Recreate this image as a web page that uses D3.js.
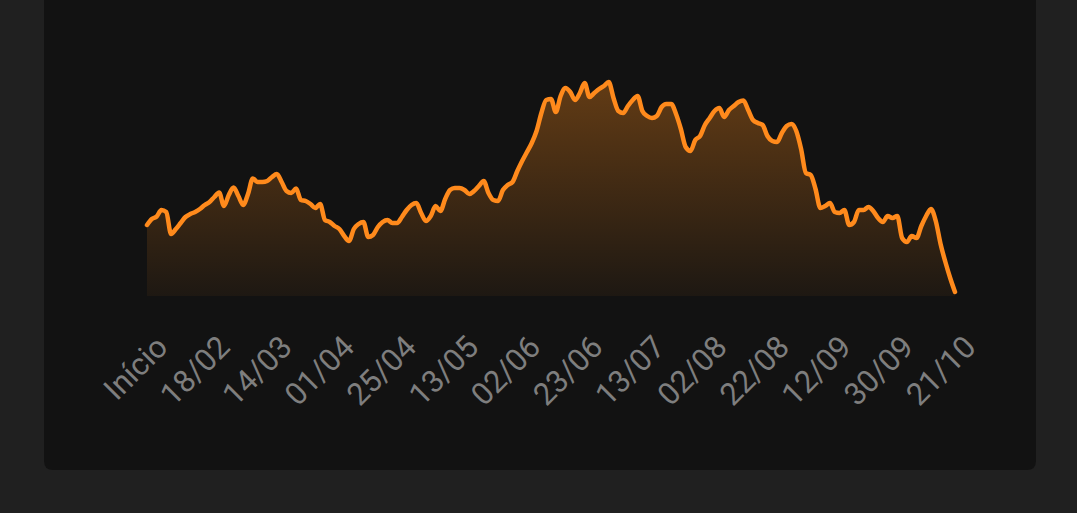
<!DOCTYPE html>
<html>
<head>
<meta charset="utf-8">
<script src="https://cdn.jsdelivr.net/npm/d3@7"></script>
<style>
  html, body { margin: 0; padding: 0; background: #202020; }
  svg { display: block; }
</style>
</head>
<body>
<svg id="chart" width="1077" height="513"></svg>
<script>
// ---- data ----
const tickLabels = ["Início", "18/02", "14/03", "01/04", "25/04", "13/05", "02/06", "23/06", "13/07", "02/08", "22/08", "12/09", "30/09", "21/10"];
const values = [
  71, 77, 79.5, 86, 84, 62, 67, 73, 79, 82, 84, 87, 91, 94,
  99, 103.5, 90, 101, 108.5, 100, 91, 102, 117.5, 114, 114, 115, 119, 122,
  114, 105, 103, 107.5, 96, 95, 92, 88, 92, 76, 74, 70, 67, 60,
  55, 67, 72, 74, 59, 61, 69, 74, 76, 73, 73, 79, 86, 91,
  93, 83, 75, 80, 90, 85, 97, 106, 108, 108, 106, 102, 105, 110,
  115, 103, 96, 95, 106, 111, 114, 125, 135, 144, 153, 165, 183, 196,
  197, 184, 200, 208, 204, 196, 203, 213, 199, 203, 207, 210, 214, 198,
  185, 183, 190, 196, 200, 185, 180, 178, 180, 189, 192, 192, 182, 167,
  149, 145, 156, 160, 171, 178, 185, 188, 179, 186, 190, 194, 195.5, 186,
  176, 173, 171, 160, 155, 154, 163, 170, 172, 165, 147, 123, 121, 107,
  88, 90, 93, 84, 83, 86, 71, 74, 86, 86, 89, 85, 78, 74,
  80, 78, 80, 58, 54, 60, 58, 70, 80, 87, 75, 52, 34, 18,
  4
];
const yDomain = [0, 220];

// ---- drawing ----
const svg = d3.select("#chart");
const W = 1077, H = 513;

svg.append("rect").attr("width", W).attr("height", H).attr("fill", "#202020");
// card
svg.append("path")
  .attr("d", (() => {
    const x0 = 44, x1 = 1036, y0 = -20, y1 = 470, r = 9;
    return `M${x0},${y0} H${x1} V${y1 - r} Q${x1},${y1} ${x1 - r},${y1} H${x0 + r} Q${x0},${y1} ${x0},${y1 - r} Z`;
  })())
  .attr("fill", "#121212");

const plotLeft = 147, plotRight = 955, plotBottom = 296, plotTop = 76;

const x = d3.scaleLinear().domain([0, values.length - 1]).range([plotLeft, plotRight]);
const y = d3.scaleLinear().domain(yDomain).range([plotBottom, plotTop]);
const xLabels = d3.scalePoint().domain(tickLabels).range([plotLeft, plotRight]);

const defs = svg.append("defs");
const grad = defs.append("linearGradient")
  .attr("id", "areaGrad")
  .attr("gradientUnits", "userSpaceOnUse")
  .attr("x1", 0).attr("x2", 0)
  .attr("y1", y(d3.max(values))).attr("y2", plotBottom);
grad.append("stop").attr("offset", "0%").attr("stop-color", "#ff8c1a").attr("stop-opacity", 0.34);
grad.append("stop").attr("offset", "100%").attr("stop-color", "#ff8c1a").attr("stop-opacity", 0.05);

const area = d3.area()
  .x((d, i) => x(i))
  .y0(plotBottom)
  .y1(d => y(d))
  .curve(d3.curveMonotoneX);

const line = d3.line()
  .x((d, i) => x(i))
  .y(d => y(d))
  .curve(d3.curveMonotoneX);

svg.append("path").datum(values).attr("d", area).attr("fill", "url(#areaGrad)");
svg.append("path").datum(values).attr("d", line)
  .attr("fill", "none")
  .attr("stroke", "#ff8a1c")
  .attr("stroke-width", 4.5)
  .attr("stroke-linejoin", "round")
  .attr("stroke-linecap", "round");

// x axis labels
const axis = d3.axisBottom(xLabels)
  .tickSize(0)
  .tickPadding(0);

const gAxis = svg.append("g")
  .attr("transform", `translate(0, ${plotBottom})`)
  .call(axis);
gAxis.select(".domain").remove();
gAxis.selectAll("text")
  .attr("fill", "#7e7e7e")
  .attr("font-family", "Roboto, 'Noto Sans', sans-serif")
  .attr("font-size", 31)
  .attr("text-anchor", "end")
  .attr("dy", 0)
  .attr("transform", "translate(22, 53) rotate(-45)");
</script>
</body>
</html>
